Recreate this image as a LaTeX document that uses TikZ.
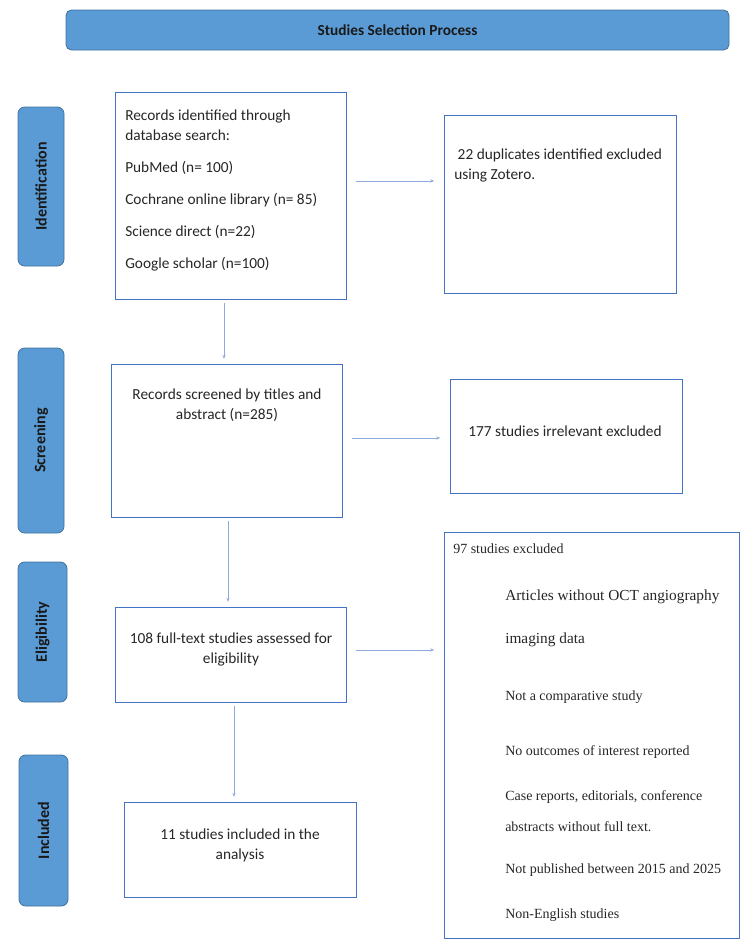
\documentclass[tikz,border=0pt]{standalone}
\usepackage{fontspec}
\setmainfont{Carlito}
\newfontfamily\timesfont{Liberation Serif}
\usetikzlibrary{arrows.meta}

\definecolor{phaseblue}{HTML}{5B9BD5}
\definecolor{phaseedge}{HTML}{41719C}
\definecolor{boxedge}{HTML}{4472C4}
\definecolor{flowblue}{HTML}{8FAADC}
\definecolor{inkgray}{HTML}{262626}

\tikzset{
  phase/.style={draw=phaseedge, fill=phaseblue, line width=0.6pt, rounded corners=5pt,
    text=black!90, inner sep=0pt, font=\bfseries\fontsize{12}{14}\selectfont},
  stagebox/.style={draw=boxedge, line width=0.7pt, inner sep=0pt},
  boxtext/.style={text=inkgray, inner sep=0pt, font=\fontsize{11.5}{15}\selectfont},
  flow/.style={draw=flowblue, line width=0.5pt, -{Stealth[length=3pt,width=2.4pt]},
    shorten <=7.5pt, shorten >=7pt},
  flowdown/.style={flow, shorten <=3pt, shorten >=3.5pt},
  reason/.style={text=inkgray, inner sep=0pt, anchor=west, font=\timesfont\fontsize{10.5}{12}\selectfont},
}

\begin{document}
\begin{tikzpicture}[x=0.75pt, y=-0.75pt]
  \useasboundingbox (0,0) rectangle (750,943);
  % header
  \node[phase, rounded corners=4pt, minimum width=497.25pt, minimum height=30pt,
    font=\bfseries\fontsize{11.5}{13}\selectfont] (header) at (397.5,30) {Studies Selection Process};
  % phase labels on the left
  \node[phase, minimum width=34.5pt, minimum height=119.25pt] (phId) at (41,186.5) {};
  \node[phase, rotate=90, fill=none, draw=none] (phIdTxt) at (phId.center) {Identification};
  \node[phase, minimum width=34.5pt, minimum height=138.75pt] (phScr) at (41,440.5) {};
  \node[phase, rotate=90, fill=none, draw=none] (phScrTxt) at (phScr.center) {Screening};
  \node[phase, minimum width=36.75pt, minimum height=105pt] (phElig) at (42.5,632) {};
  \node[phase, rotate=90, fill=none, draw=none] (phEligTxt) at (phElig.center) {Eligibility};
  \node[phase, minimum width=36.75pt, minimum height=113.25pt] (phIncl) at (43.5,830.5) {};
  \node[phase, rotate=90, fill=none, draw=none] (phInclTxt) at (phIncl.center) {Included};

  % main column
  \node[stagebox, minimum width=173.25pt, minimum height=155.25pt] (idrec) at (230.5,195.5) {};
  \node[boxtext, anchor=north west, align=left] (idrecTxt) at (125,110)
    {Records identified through\\database search:\\[9pt]
     PubMed (n= 100)\\[9pt]Cochrane online library (n= 85)\\[9pt]
     Science direct (n=22)\\[9pt]Google scholar (n=100)};
  \node[stagebox, minimum width=173.25pt, minimum height=114.75pt] (scrrec) at (226.5,440.5) {};
  \node[boxtext, anchor=north, align=center] (scrrecTxt) at (227,389)
    {Records screened by titles and\\abstract (n=285)};
  \node[stagebox, minimum width=173.25pt, minimum height=71.25pt] (elig) at (230.5,654.5) {};
  \node[boxtext, anchor=north, align=center] (eligTxt) at (231,633)
    {108 full-text studies assessed for\\eligibility};
  \node[stagebox, minimum width=174pt, minimum height=71.25pt] (incl) at (240,849.5) {};
  \node[boxtext, anchor=north, align=center] (inclTxt) at (240,829)
    {11 studies included in the\\analysis};

  % exclusion column
  \node[stagebox, minimum width=174pt, minimum height=133.5pt] (dup) at (560,204) {};
  \node[boxtext, anchor=north west, align=left, font=\fontsize{11.5}{14.5}\selectfont] (dupTxt) at (454,149)
    {\ 22 duplicates identified excluded\\using Zotero.};
  \node[stagebox, minimum width=174pt, minimum height=85.5pt] (irr) at (566,436) {};
  \node[boxtext] (irrTxt) at (565,431) {177 studies irrelevant excluded};
  \node[stagebox, minimum width=221.25pt, minimum height=304.5pt] (exc) at (591.5,735) {};
  \node[reason] (excHead) at (453,549) {97 studies excluded};
  \foreach \ypos/\fs/\why [count=\i] in {597/11.5/Articles without OCT angiography, 640/11.5/imaging data,
      697/10.5/Not a comparative study, 752/10.5/No outcomes of interest reported,
      797/10.5/{Case reports, editorials, conference}, 827/10.5/abstracts without full text.,
      870/10.5/Not published between 2015 and 2025, 915/10.5/Non-English studies}
    \node[reason, font=\timesfont\fontsize{\fs}{14}\selectfont] (reason\i) at (505,\ypos) {\why};

  % connectors
  \coordinate (s1) at ([yshift=10.9pt]idrec.east);
  \draw[flow] (s1) -- (s1 -| dup.west);
  \coordinate (s2) at ([xshift=-4.9pt]idrec.south);
  \draw[flowdown] (s2) -- (s2 |- scrrec.north);
  \coordinate (s3) at ([yshift=1.9pt]scrrec.east);
  \draw[flow] (s3) -- (s3 -| irr.west);
  \coordinate (s4) at ([xshift=1.1pt]scrrec.south);
  \draw[flowdown] (s4) -- (s4 |- elig.north);
  \coordinate (s5) at ([yshift=3.4pt]elig.east);
  \draw[flow] (s5) -- (s5 -| exc.west);
  \coordinate (s6) at ([xshift=2.6pt]elig.south);
  \draw[flowdown] (s6) -- (s6 |- incl.north);
\end{tikzpicture}
\end{document}
